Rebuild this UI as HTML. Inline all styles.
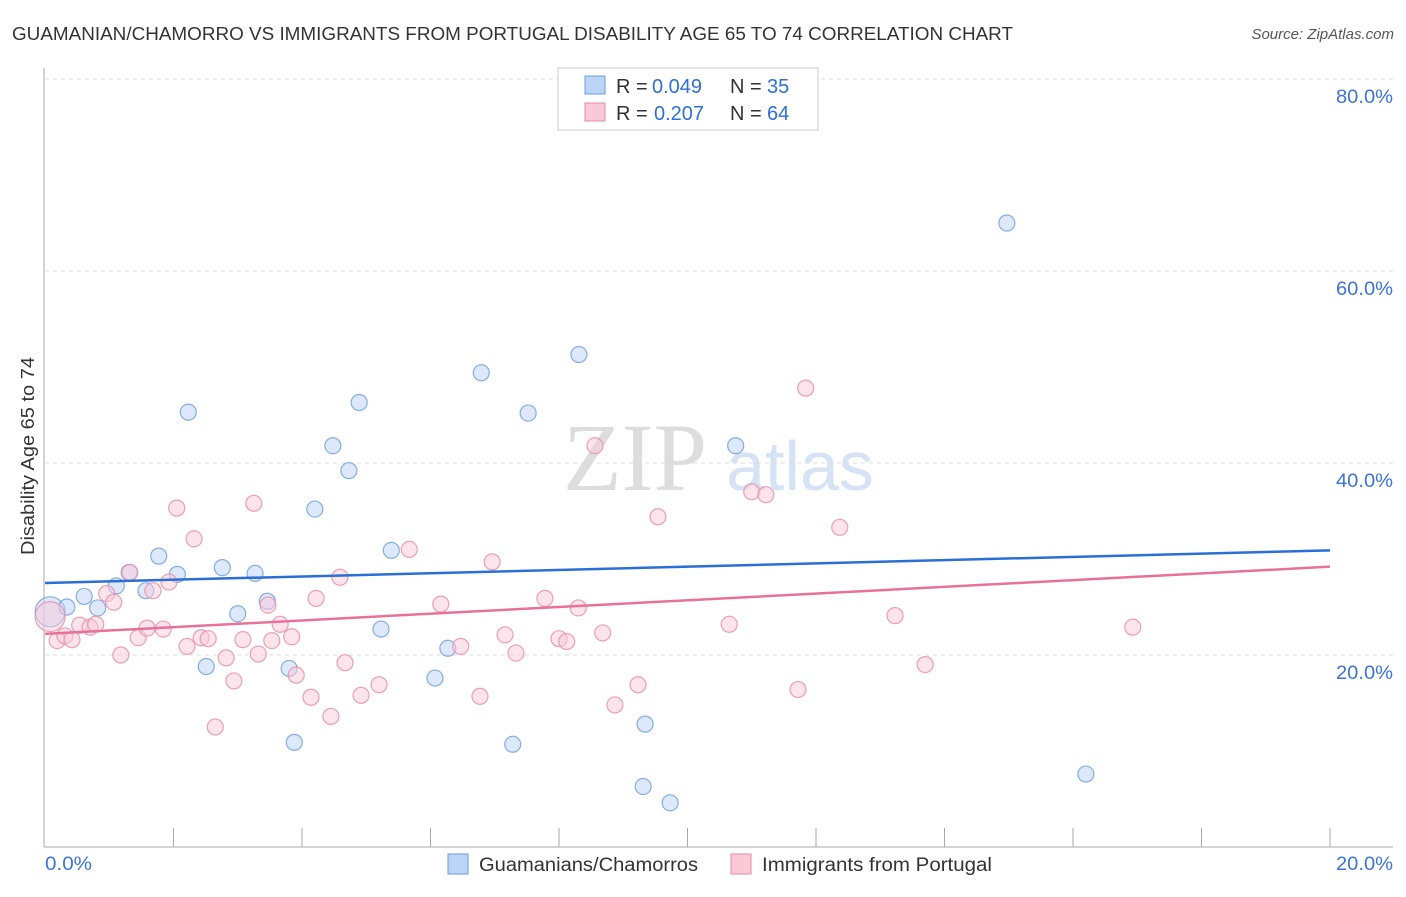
<!DOCTYPE html>
<html><head><meta charset="utf-8"><style>
body{margin:0;background:#fff;font-family:"Liberation Sans",sans-serif;}
svg text{font-family:"Liberation Sans",sans-serif;}
</style></head><body>
<svg width="1406" height="892" viewBox="0 0 1406 892">
<text x="12" y="40" font-size="18" fill="#333" textLength="1001" lengthAdjust="spacingAndGlyphs">GUAMANIAN/CHAMORRO VS IMMIGRANTS FROM PORTUGAL DISABILITY AGE 65 TO 74 CORRELATION CHART</text>
<text x="1394" y="39" font-size="15" fill="#555" text-anchor="end" font-style="italic">Source: ZipAtlas.com</text>
<text transform="translate(34,456) rotate(-90)" font-size="18" fill="#333" text-anchor="middle" textLength="198" lengthAdjust="spacingAndGlyphs">Disability Age 65 to 74</text>
<g>
<text x="635" y="490" font-size="96" fill="#ddd" text-anchor="middle" style="font-family:'Liberation Serif',serif">ZIP</text>
<text x="800" y="490" font-size="70" fill="#d6e3f5" text-anchor="middle">atlas</text>
</g>
<g id="grid"></g>
<g id="axes"></g>
<g id="marks"></g>
<g>
<rect x="558" y="68" width="260" height="62" fill="#fff" stroke="#ccc"/>
<rect x="585" y="76" width="20" height="18" fill="#bcd4f5" stroke="#6a9be0"/>
<rect x="585" y="103" width="20" height="18" fill="#f9c9d8" stroke="#e88aa8"/>
<text x="616" y="93" font-size="20" fill="#333">R =</text>
<text x="652" y="93" font-size="20" fill="#2f6fd6">0.049</text>
<text x="730" y="93" font-size="20" fill="#333">N =</text>
<text x="767" y="93" font-size="20" fill="#2f6fd6">35</text>
<text x="616" y="120" font-size="20" fill="#333">R =</text>
<text x="654" y="120" font-size="20" fill="#2f6fd6">0.207</text>
<text x="730" y="120" font-size="20" fill="#333">N =</text>
<text x="767" y="120" font-size="20" fill="#2f6fd6">64</text>
</g>
<g>
<rect x="448" y="854" width="20" height="20" fill="#bcd4f5" stroke="#6a9be0"/>
<text x="479" y="871" font-size="19" fill="#333" textLength="219" lengthAdjust="spacingAndGlyphs">Guamanians/Chamorros</text>
<rect x="731" y="854" width="20" height="20" fill="#f9c9d8" stroke="#e88aa8"/>
<text x="762" y="871" font-size="19" fill="#333" textLength="230" lengthAdjust="spacingAndGlyphs">Immigrants from Portugal</text>
</g>
</svg>
<script>
const blueX=[0.08,0.34,0.61,0.82,1.11,1.31,1.57,1.77,2.06,2.23,2.51,2.76,3.00,3.27,3.46,3.80,3.88,4.20,4.48,4.73,4.89,5.23,5.39,6.07,6.27,6.79,7.28,7.52,8.31,9.34,9.31,9.73,10.75,14.97,16.20];
const blueY=[24.5,25.0,26.1,24.9,27.2,28.6,26.7,30.3,28.4,45.3,18.8,29.1,24.3,28.5,25.6,18.6,10.9,35.2,41.8,39.2,46.3,22.7,30.9,17.6,20.7,49.4,10.7,45.2,51.3,12.8,6.3,4.6,41.8,65.0,7.6];
const pinkX=[0.08,0.19,0.31,0.42,0.54,0.70,0.79,0.96,1.07,1.18,1.32,1.45,1.59,1.68,1.84,1.93,2.05,2.21,2.32,2.43,2.54,2.65,2.82,2.94,3.08,3.25,3.32,3.47,3.53,3.66,3.84,3.91,4.14,4.22,4.45,4.59,4.67,4.92,5.20,5.67,6.16,6.47,6.77,6.96,7.16,7.33,7.78,8.00,8.12,8.30,8.56,8.68,8.87,9.23,9.54,10.65,11.00,11.22,11.72,11.84,12.37,13.23,13.70,16.93];
const pinkY=[24.0,21.5,22.0,21.6,23.1,22.9,23.2,26.4,25.5,20.0,28.6,21.8,22.8,26.7,22.7,27.6,35.3,20.9,32.1,21.8,21.7,12.5,19.7,17.3,21.6,35.8,20.1,25.2,21.5,23.2,21.9,17.9,15.6,25.9,13.6,28.1,19.2,15.8,16.9,31.0,25.3,20.9,15.7,29.7,22.1,20.2,25.9,21.7,21.4,24.9,41.8,22.3,14.8,16.9,34.4,23.2,37.0,36.7,16.4,47.8,33.3,24.1,19.0,22.9];
const blueTrend=[27.5,30.9];
const pinkTrend=[22.2,29.2];
const yTicks=[20,40,60,80];
const yTickLabels=["20.0%","40.0%","60.0%","80.0%"];
const xTickCount=10;
const NS="http://www.w3.org/2000/svg";
const X0=45,X1=1330,Y0=847,Y80=79;
function sx(v){return X0+(v/20)*(X1-X0);}
function sy(v){return Y0-(v/80)*(Y0-Y80);}
function mk(t,a,p){const e=document.createElementNS(NS,t);for(const k in a)e.setAttribute(k,a[k]);p.appendChild(e);return e;}
const grid=document.getElementById('grid'),axes=document.getElementById('axes'),marks=document.getElementById('marks');
yTicks.forEach((v,i)=>{
 const l=mk('line',{x1:45,x2:1393,y1:sy(v),y2:sy(v),stroke:'#ddd','stroke-dasharray':'4,4'},grid);
 
 
 const t=mk('text',{x:1393,y:sy(v)+24,'font-size':19,fill:'#3d74d6','text-anchor':'end',textLength:57,lengthAdjust:'spacingAndGlyphs'},axes);
 t.textContent=yTickLabels[i];
 
 
});
const la=mk('line',{x1:44,x2:44,y1:68,y2:847,stroke:'#aaa'},axes);


const lb=mk('line',{x1:44,x2:1393,y1:847,y2:847,stroke:'#aaa'},axes);


for(let i=1;i<=xTickCount;i++){
 const x=sx(i*2);
 const t=mk('line',{x1:x,x2:x,y1:828,y2:847,stroke:'#aaa'},axes);
 
 
}
const xl0=mk('text',{x:45,y:870,'font-size':19,fill:'#3d74d6',textLength:47,lengthAdjust:'spacingAndGlyphs'},axes);xl0.textContent='0.0%';


const xl1=mk('text',{x:1393,y:870,'font-size':19,fill:'#3d74d6','text-anchor':'end',textLength:57,lengthAdjust:'spacingAndGlyphs'},axes);xl1.textContent='20.0%';


function pts(xs,ys,fill,stroke,name){
 xs.forEach((x,i)=>{
  const c=mk('circle',{cx:sx(x),cy:sy(ys[i]),r:i===0&&x<0.1?15:8,fill:fill,'fill-opacity':0.5,stroke:stroke,'stroke-opacity':0.8,'stroke-width':1.2},marks);
  
  
 });
}
pts(blueX,blueY,'#bcd4f5','#6a9be0','guamanian-point');
pts(pinkX,pinkY,'#f9c9d8','#e88aa8','portugal-point');
const tb=mk('line',{x1:sx(0),y1:sy(blueTrend[0]),x2:sx(20),y2:sy(blueTrend[1]),stroke:'#2a6fd6','stroke-width':2.5},marks);


const tp=mk('line',{x1:sx(0),y1:sy(pinkTrend[0]),x2:sx(20),y2:sy(pinkTrend[1]),stroke:'#e8719a','stroke-width':2.5},marks);


</script>
</body></html>
